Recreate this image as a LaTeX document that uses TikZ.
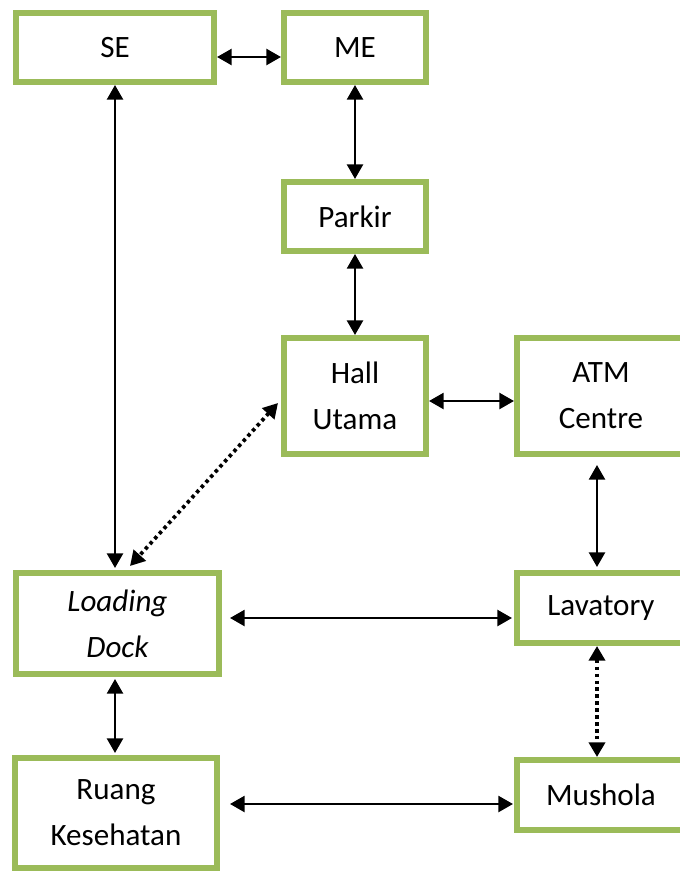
\documentclass[tikz,border=0pt]{standalone}
\usepackage{fontspec}
\setmainfont{Carlito}
\usetikzlibrary{arrows.meta,calc}
\definecolor{leaf}{RGB}{155,187,89}

\tikzset{
  room/.style={draw=leaf,line width=4.5pt,fill=white,align=center,
    font=\fontsize{23.3}{34.5}\selectfont,inner sep=0pt},
  biarrow/.style={{Triangle[length=11pt,width=12pt]}-{Triangle[length=11pt,width=12pt]},line width=1.9pt},
  dotarrow/.style={biarrow,line width=2.8pt,dash pattern=on 2.6pt off 2.6pt}
}

\begin{document}
\begin{tikzpicture}[x=0.75pt,y=-0.75pt]
  \useasboundingbox (0,0) rectangle (679,871);
  % boxes
  \node[room,minimum width=148.5pt,minimum height=51.75pt] (se) at (115,47.5) {SE};
  \node[room,minimum width=106.5pt,minimum height=51.75pt] (me) at (355,47.5) {ME};
  \node[room,minimum width=106.5pt,minimum height=51.75pt] (parkir) at (355,216.5) {Parkir};
  \node[room,minimum width=106.5pt,minimum height=87pt] (hall) at (355,396) {Hall\\Utama};
  \node[room,minimum width=126pt,minimum height=87pt] (atm) at (601,396) {ATM\\Centre};
  \node[room,minimum width=152.25pt,minimum height=75.75pt] (load) at (117.5,623.5) {\itshape Loading\\\itshape Dock};
  \node[room,minimum width=126pt,minimum height=52.5pt] (lava) at (601,608) {Lavatory};
  \node[room,minimum width=151.5pt,minimum height=82.5pt] (ruang) at (116,813) {Ruang\\Kesehatan};
  \node[room,minimum width=126pt,minimum height=52.5pt] (mushola) at (601,795) {Mushola};
  % links
  \draw[biarrow] ($(se.east)+(0,9.5)$) -- ($(me.west)+(0,9.5)$);
  \draw[biarrow] (me.south) -- (parkir.north);
  \draw[biarrow] (parkir.south) -- (hall.north);
  \draw[biarrow] ($(hall.east)+(0,5)$) -- ($(atm.west)+(0,5)$);
  \draw[biarrow] ($(atm.south)+(-4,8)$) -- ($(lava.north)+(-4,-3)$);
  \draw[biarrow] (se.south) -- ($(load.north)+(-2.5,-2)$);
  \draw[dotarrow] ($(hall.west)+(-3,7)$) -- ($(load.north)+(12.5,-4)$);
  \draw[biarrow] ($(load.east)+(8,-5.5)$) -- ($(lava.west)+(-2,10)$);
  \draw[biarrow] ($(load.south)+(-2.5,2)$) -- ($(ruang.north)+(-1,-2)$);
  \draw[dotarrow] ($(lava.south)+(-4,0)$) -- ($(mushola.north)+(-4,0)$);
  \draw[biarrow] ($(ruang.east)+(10,-9)$) -- ($(mushola.west)+(-1,9)$);
\end{tikzpicture}
\end{document}
